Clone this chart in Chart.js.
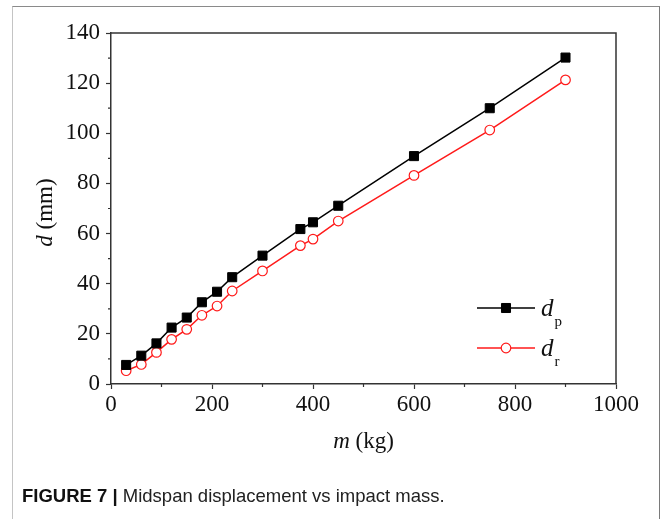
<!DOCTYPE html>
<html>
<head>
<meta charset="utf-8">
<script src="https://cdn.jsdelivr.net/npm/chart.js@4.4.1/dist/chart.umd.min.js"></script>
<style>
    body { margin: 0; background: #fff; }
    #wrap { position: relative; width: 665px; height: 519px; overflow: hidden; }
    #frame {
        position: absolute; left: 12px; top: 6px; width: 646px; height: 600px;
        border-top: 1px solid #8a8a8a; border-right: 1px solid #7a7a7a; border-left: 1px solid #c4c4c4;
    }
    #chart { position: absolute; left: 0; top: 0; }
    #caption {
        position: absolute; left: 22px; top: 485px;
        font-family: 'Liberation Sans', Arial, sans-serif; font-size: 18.5px; color: #222;
    }
    #caption b { font-weight: bold; color: #111; }
</style>
</head>
<body>
<div id="wrap">
    <div id="frame"></div>
    <canvas id="chart" width="665" height="519"></canvas>
    <div id="caption"><b>FIGURE 7 |</b> Midspan displacement vs impact mass.</div>
</div>
<script>
// Impact mass (kg) and midspan displacements (mm)
const massKg = [30, 60, 90, 120, 150, 180, 210, 240, 300, 375, 400, 450, 600, 750, 900];
const dispP = [7.6, 11.3, 16.2, 22.5, 26.5, 32.6, 36.8, 42.6, 51.2, 61.8, 64.5, 71.1, 90.9, 110, 130.2];
const dispR = [5.3, 7.8, 12.6, 17.8, 21.8, 27.4, 31.1, 37.1, 45.1, 55.2, 57.8, 65.0, 83.2, 101.3, 121.3];

const xTicks = [0, 200, 400, 600, 800, 1000];
const yTicks = [0, 20, 40, 60, 80, 100, 120, 140];
const xMinor = [100, 300, 500, 700, 900];
const yMinor = [10, 30, 50, 70, 90, 110, 130];

const legendItems = [
    { base: 'd', sub: 'p' },
    { base: 'd', sub: 'r' }
];

const SERIF = "'Liberation Serif', 'Times New Roman', serif";
const AXIS_COLOR = '#333';

const toPoints = (xs, ys) => xs.map((x, i) => ({ x: x, y: ys[i] }));

const framePlugin = {
    id: 'framePlugin',
    afterDraw(chart) {
        const ctx = chart.ctx;
        const area = chart.chartArea;
        const xs = chart.scales.x;
        const ys = chart.scales.y;
        ctx.save();

        // top/right box lines
        ctx.strokeStyle = AXIS_COLOR;
        ctx.lineWidth = 1.5;
        ctx.beginPath();
        ctx.moveTo(area.left, area.top);
        ctx.lineTo(area.right, area.top);
        ctx.lineTo(area.right, area.bottom);
        ctx.stroke();

        // minor ticks
        ctx.lineWidth = 1.2;
        ctx.beginPath();
        xMinor.forEach(v => {
            const px = xs.getPixelForValue(v);
            ctx.moveTo(px, area.bottom);
            ctx.lineTo(px, area.bottom + 3);
        });
        yMinor.forEach(v => {
            const py = ys.getPixelForValue(v);
            ctx.moveTo(area.left, py);
            ctx.lineTo(area.left - 3, py);
        });
        ctx.stroke();

        // axis titles
        ctx.fillStyle = '#111';
        ctx.textBaseline = 'alphabetic';
        const drawMixed = (parts, cx, cy) => {
            let total = 0;
            parts.forEach(p => { ctx.font = p.font; total += ctx.measureText(p.text).width; });
            let x = cx - total / 2;
            parts.forEach(p => {
                ctx.font = p.font;
                ctx.textAlign = 'left';
                ctx.fillText(p.text, x, cy);
                x += ctx.measureText(p.text).width;
            });
        };
        drawMixed([
            { text: 'm', font: 'italic 23px ' + SERIF },
            { text: ' (kg)', font: '23px ' + SERIF }
        ], (area.left + area.right) / 2, 448);

        ctx.save();
        ctx.translate(52, (area.top + area.bottom) / 2 + 4);
        ctx.rotate(-Math.PI / 2);
        drawMixed([
            { text: 'd', font: 'italic 23px ' + SERIF },
            { text: ' (mm)', font: '23px ' + SERIF }
        ], 0, 0);
        ctx.restore();

        // legend
        const lx0 = area.right - 139;
        const lx1 = area.right - 81;
        chart.data.datasets.forEach((ds, i) => {
            const ly = area.bottom - 76 + i * 40;
            const cx = (lx0 + lx1) / 2;
            ctx.strokeStyle = ds.borderColor;
            ctx.lineWidth = ds.borderWidth;
            ctx.beginPath();
            ctx.moveTo(lx0, ly);
            ctx.lineTo(lx1, ly);
            ctx.stroke();

            ctx.fillStyle = ds.pointBackgroundColor;
            ctx.strokeStyle = ds.pointBorderColor;
            ctx.lineWidth = ds.pointBorderWidth;
            ctx.beginPath();
            if (ds.pointStyle === 'rect') {
                const s = ds.pointRadius * Math.SQRT1_2;
                ctx.rect(cx - s, ly - s, 2 * s, 2 * s);
            } else {
                ctx.arc(cx, ly, ds.pointRadius, 0, Math.PI * 2);
            }
            ctx.fill();
            ctx.stroke();

            ctx.fillStyle = '#111';
            ctx.textAlign = 'left';
            ctx.font = 'italic 25px ' + SERIF;
            ctx.fillText(legendItems[i].base, lx1 + 6, ly + 8);
            const w = ctx.measureText(legendItems[i].base).width;
            ctx.font = '15px ' + SERIF;
            ctx.fillText(legendItems[i].sub, lx1 + 6 + w + 1, ly + 18);
        });
        ctx.restore();
    }
};

new Chart(document.getElementById('chart'), {
    type: 'line',
    data: {
        datasets: [
            {
                label: 'dp',
                data: toPoints(massKg, dispP),
                borderColor: '#000',
                borderWidth: 1.5,
                pointStyle: 'rect',
                pointRadius: 6.4,
                pointBackgroundColor: '#000',
                pointBorderColor: '#000',
                pointBorderWidth: 1,
                tension: 0
            },
            {
                label: 'dr',
                data: toPoints(massKg, dispR),
                borderColor: '#ff1a1a',
                borderWidth: 1.5,
                pointStyle: 'circle',
                pointRadius: 4.8,
                pointBackgroundColor: '#fff',
                pointBorderColor: '#ff1a1a',
                pointBorderWidth: 1.2,
                tension: 0
            }
        ]
    },
    options: {
        responsive: false,
        devicePixelRatio: 1,
        animation: false,
        layout: { padding: { left: 0, top: 33, right: 49, bottom: 0 } },
        plugins: {
            legend: { display: false },
            tooltip: { enabled: false }
        },
        scales: {
            x: {
                type: 'linear',
                min: 0,
                max: 1000,
                afterBuildTicks: scale => { scale.ticks = xTicks.map(v => ({ value: v })); },
                afterFit: scale => { scale.height = 135; },
                grid: { drawOnChartArea: false, tickLength: 5, tickColor: AXIS_COLOR, tickWidth: 1.2 },
                border: { color: AXIS_COLOR, width: 1.5 },
                ticks: {
                    color: '#111', padding: 2, maxRotation: 0,
                    font: { family: SERIF, size: 23 },
                    callback: v => String(v)
                }
            },
            y: {
                type: 'linear',
                min: 0,
                max: 140,
                afterBuildTicks: scale => { scale.ticks = yTicks.map(v => ({ value: v })); },
                afterFit: scale => { scale.width = 111; },
                grid: { drawOnChartArea: false, tickLength: 5, tickColor: AXIS_COLOR, tickWidth: 1.2 },
                border: { color: AXIS_COLOR, width: 1.5 },
                ticks: {
                    color: '#111', padding: 6,
                    font: { family: SERIF, size: 23 },
                    callback: v => String(v)
                }
            }
        }
    },
    plugins: [framePlugin]
});
</script>
</body>
</html>
